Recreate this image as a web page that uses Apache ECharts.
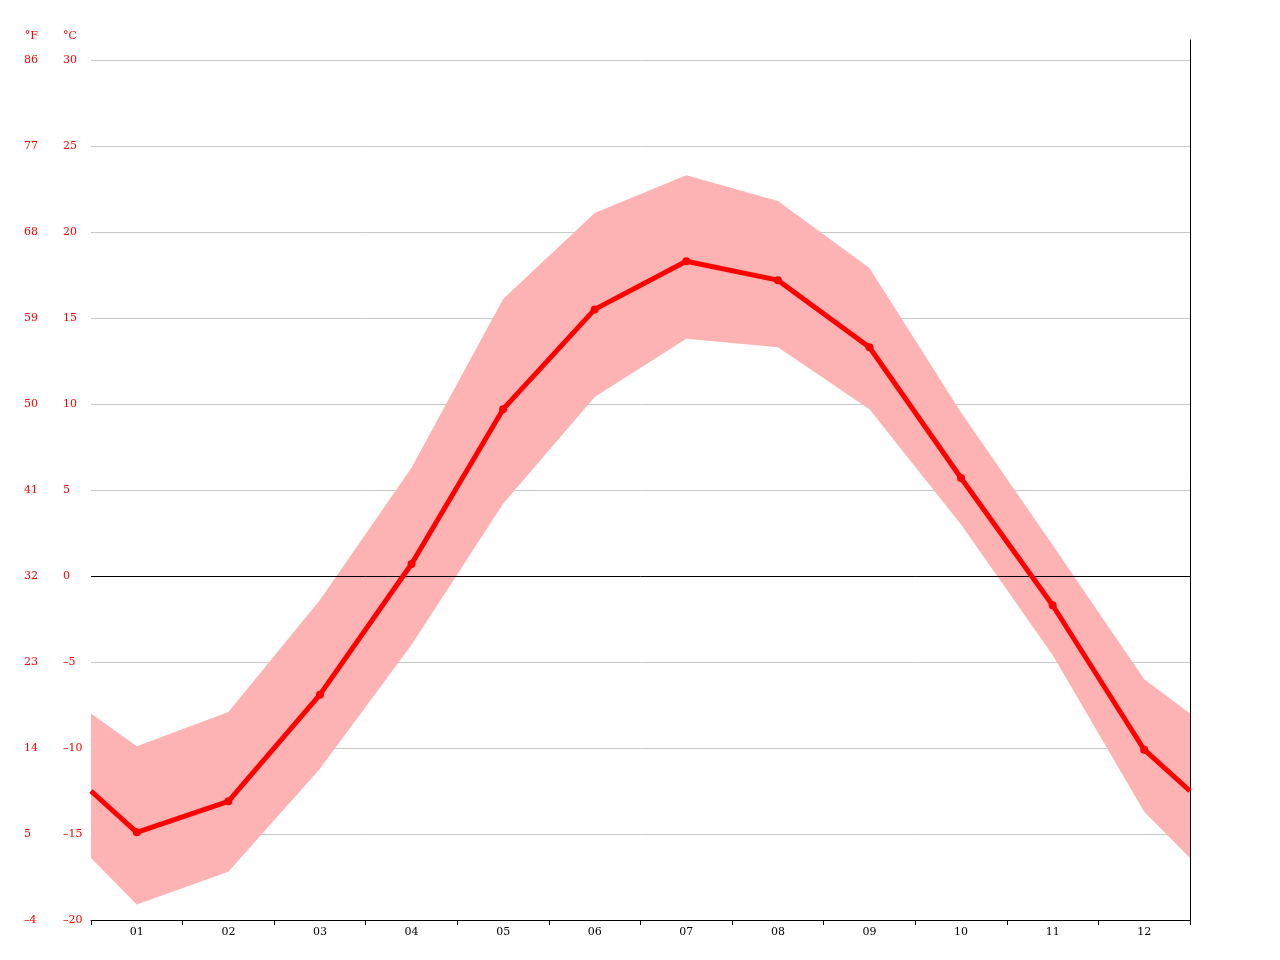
<!DOCTYPE html>
<html>
<head>
<meta charset="utf-8">
<script src="https://cdn.jsdelivr.net/npm/echarts@6/dist/echarts.min.js"></script>
<style>
  html, body { margin: 0; padding: 0; background: #fff; }
  #chart { width: 1280px; height: 960px; }
</style>
</head>
<body>
<div id="chart"></div>
<script>
// month labels on the x axis
const months = ['01', '02', '03', '04', '05', '06', '07', '08', '09', '10', '11', '12']
// values: first and last are the plot edges, the middle 12 are month centres
const tempMean = [-12.5, -14.9, -13.1, -6.9, 0.7, 9.7, 15.5, 18.3, 17.2, 13.3, 5.7, -1.7, -10.1, -12.5]
const tempMax = [-8.0, -9.9, -7.9, -1.4, 6.3, 16.1, 21.1, 23.3, 21.8, 17.9, 9.5, 1.8, -6.0, -8.0]
const tempMin = [-16.4, -19.1, -17.2, -11.2, -4.0, 4.2, 10.4, 13.8, 13.3, 9.7, 3.0, -4.6, -13.7, -16.4]

const FONT = 'DejaVu Serif'
const RED = '#ff0000'

// x position of point i: 0 and 12 at edges, months at their centre
function xAt(i) {
  if (i === 0) return 0
  if (i === tempMean.length - 1) return 12
  return i - 0.5
}
const isEdge = i => i === 0 || i === tempMean.length - 1

const neg = n => (n < 0 ? '\u2013' + Math.abs(n) : String(n))
const toF = c => neg(Math.round(c * 9 / 5 + 32))
const fmtC = v => neg(v)

const bandData = tempMin.map((v, i) => [xAt(i), v, tempMax[i]])

// min..max band as one polygon, points through the axis scales
function renderBand(params, api) {
  if (params.dataIndex !== 0) return null
  const upper = bandData.map(d => api.coord([d[0], d[2]]))
  const lower = bandData.map(d => api.coord([d[0], d[1]])).reverse()
  return {
    type: 'polygon',
    shape: { points: upper.concat(lower) },
    style: { fill: '#fdb3b3', stroke: null },
    silent: true
  }
}

const labelStyle = { color: RED, fontFamily: FONT, fontSize: 11, margin: 28, align: 'left' }
const nameStyle = { color: RED, fontFamily: FONT, fontSize: 11, align: 'right', padding: [0, 14, 0, 0] }

const chart = echarts.init(document.getElementById('chart'))

chart.setOption({
  animation: false,
  grid: [
    { left: 91, right: 90, top: 60, bottom: 40 },
    { left: 91, right: 90, top: 40, bottom: 40 }
  ],
  xAxis: [
    {
      // data axis
      type: 'value', min: 0, max: 12, show: false, gridIndex: 0
    },
    {
      // display axis: ticks at month boundaries, labels in the middle
      type: 'category', data: months, gridIndex: 0, position: 'bottom',
      boundaryGap: true,
      axisLine: { onZero: false, lineStyle: { color: '#000', width: 1 } },
      axisTick: { show: true, length: 5, lineStyle: { color: '#000' } },
      axisLabel: { color: '#000', fontFamily: FONT, fontSize: 11, margin: 7 },
      splitLine: { show: false }
    },
    { type: 'value', min: 0, max: 1, show: false, gridIndex: 1 }
  ],
  yAxis: [
    {
      type: 'value', min: -20, max: 30, interval: 5, gridIndex: 0,
      name: '°C', nameLocation: 'end', nameGap: 18, nameTextStyle: nameStyle,
      axisLine: { show: false }, axisTick: { show: false },
      axisLabel: Object.assign({ formatter: fmtC }, labelStyle),
      splitLine: { lineStyle: { color: '#c8c8c8', width: 1 } }
    },
    {
      type: 'value', min: -20, max: 30, interval: 5, gridIndex: 0,
      position: 'left', offset: 39,
      name: '°F', nameLocation: 'end', nameGap: 18, nameTextStyle: nameStyle,
      axisLine: { show: false }, axisTick: { show: false },
      axisLabel: Object.assign({ formatter: toF }, labelStyle),
      splitLine: { show: false }
    },
    {
      type: 'value', min: 0, max: 1, gridIndex: 1, position: 'right',
      axisLine: { show: true, onZero: false, lineStyle: { color: '#000', width: 1 } },
      axisTick: { show: false }, axisLabel: { show: false }, splitLine: { show: false }
    }
  ],
  series: [
    {
      name: 'band', type: 'custom', xAxisIndex: 0, yAxisIndex: 0,
      data: bandData,
      encode: { x: 0, y: [1, 2] },
      renderItem: renderBand,
      silent: true, z: 1
    },
    {
      name: 'mean', type: 'line', xAxisIndex: 0, yAxisIndex: 0,
      data: tempMean.map((v, i) => ({ value: [xAt(i), v], symbol: isEdge(i) ? 'none' : 'circle' })),
      symbolSize: 8, showSymbol: true,
      itemStyle: { color: RED },
      lineStyle: { color: RED, width: 5 },
      z: 5,
      markLine: {
        silent: true, symbol: 'none', label: { show: false },
        lineStyle: { color: '#000', width: 1, type: 'solid' },
        data: [{ yAxis: 0 }]
      }
    }
  ]
})
</script>
</body>
</html>
